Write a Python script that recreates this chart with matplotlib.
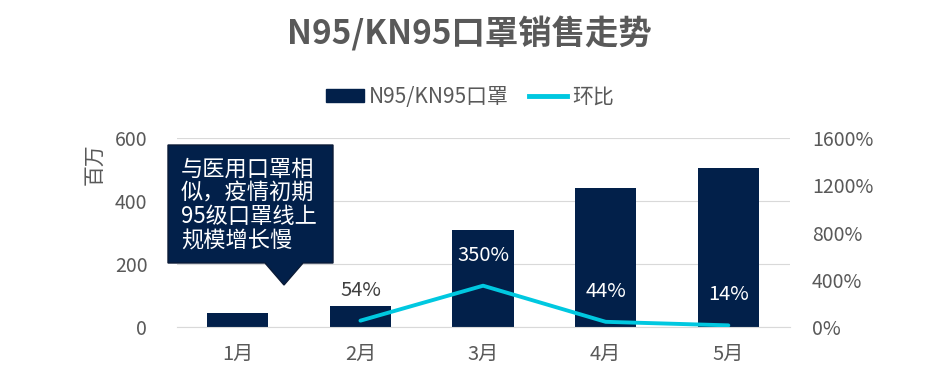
import matplotlib
matplotlib.use("Agg")
import matplotlib.pyplot as plt
from matplotlib.patches import Polygon, Rectangle
from matplotlib.lines import Line2D
from matplotlib.ticker import FuncFormatter

plt.rcParams['font.family'] = ['Noto Sans CJK SC', 'DejaVu Sans']

# data
months = ['1月', '2月', '3月', '4月', '5月']
sales = [45, 67, 308, 442, 505]          # 百万
mom_months = ['2月', '3月', '4月', '5月']
mom = [54, 350, 44, 14]                   # 环比 %
mom_labels = ['54%', '350%', '44%', '14%']
label_colors = ['#404040', 'white', 'white', 'white']

navy = '#02204A'
cyan = '#00C8E0'
grey = '#595959'

fig = plt.figure(figsize=(9.29, 3.87), dpi=100)
ax = fig.add_axes([0.19, 0.155, 0.66, 0.488])
ax2 = ax.twinx()

x = list(range(len(months)))
ax.bar(x, sales, width=0.5, color=navy, zorder=2)
ax.set_xlim(-0.5, 4.5)
ax.set_ylim(0, 600)
ax.set_yticks([0, 200, 400, 600])
ax.grid(axis='y', color='#D9D9D9', lw=0.8, zorder=0)
ax.set_axisbelow(True)
ax.set_xticks(x)
ax.set_xticklabels(months)
ax.tick_params(axis='both', length=0, labelsize=14.5, colors=grey, pad=12)
ax.tick_params(axis='y', labelsize=14, pad=21)
for s in ax.spines.values():
    s.set_visible(False)
ax.spines['bottom'].set_visible(True)
ax.spines['bottom'].set_color('#D9D9D9')

xm = [months.index(m) for m in mom_months]
ax2.plot(xm, mom, color=cyan, lw=2.8, zorder=3, solid_capstyle='round')
ax2.set_ylim(0, 1600)
ax2.set_yticks([0, 400, 800, 1200, 1600])
ax2.yaxis.set_major_formatter(FuncFormatter(lambda v, p: f'{v:.0f}%'))
ax2.tick_params(axis='y', length=0, labelsize=14, colors=grey, pad=16)
for s in ax2.spines.values():
    s.set_visible(False)

for xi, v, t, c in zip(xm, mom, mom_labels, label_colors):
    ax2.annotate(t, (xi, v), xytext=(0, 22), textcoords='offset points',
                 ha='center', va='center', fontsize=14.5, color=c)

fig.text(0.505, 1 - 34 / 387, 'N95/KN95口罩销售走势', ha='center', va='center',
         fontsize=24, fontweight='bold', color=grey)
fig.text(95 / 929, 1 - 164 / 387, '百万', rotation=90, ha='center', va='center',
         fontsize=15, color=grey)

# legend
handles = [Rectangle((0, 0), 1, 1, color=navy), Line2D([], [], color=cyan, lw=3.5)]
fig.legend(handles, ['N95/KN95口罩', '环比'], loc='center', bbox_to_anchor=(470 / 929, 1 - 97 / 387),
           ncol=2, frameon=False, fontsize=15, labelcolor=grey,
           handlelength=1.8, handleheight=0.6, columnspacing=1.0, handletextpad=0.25)

# callout box
box = Polygon([(168, 387 - 145), (333, 387 - 145), (333, 387 - 263), (303, 387 - 263),
               (284, 387 - 285), (265, 387 - 263), (168, 387 - 263)],
              closed=True, transform=None, facecolor=navy, edgecolor='#0A1A36', lw=1, zorder=5)
fig.patches.append(box)
fig.text(181 / 929, 1 - 205 / 387, '与医用口罩相\n似，疫情初期\n95级口罩线上\n规模增长慢',
         ha='left', va='center', fontsize=16, color='white', linespacing=1.05, zorder=6)

fig.savefig('out.png', dpi=100)
